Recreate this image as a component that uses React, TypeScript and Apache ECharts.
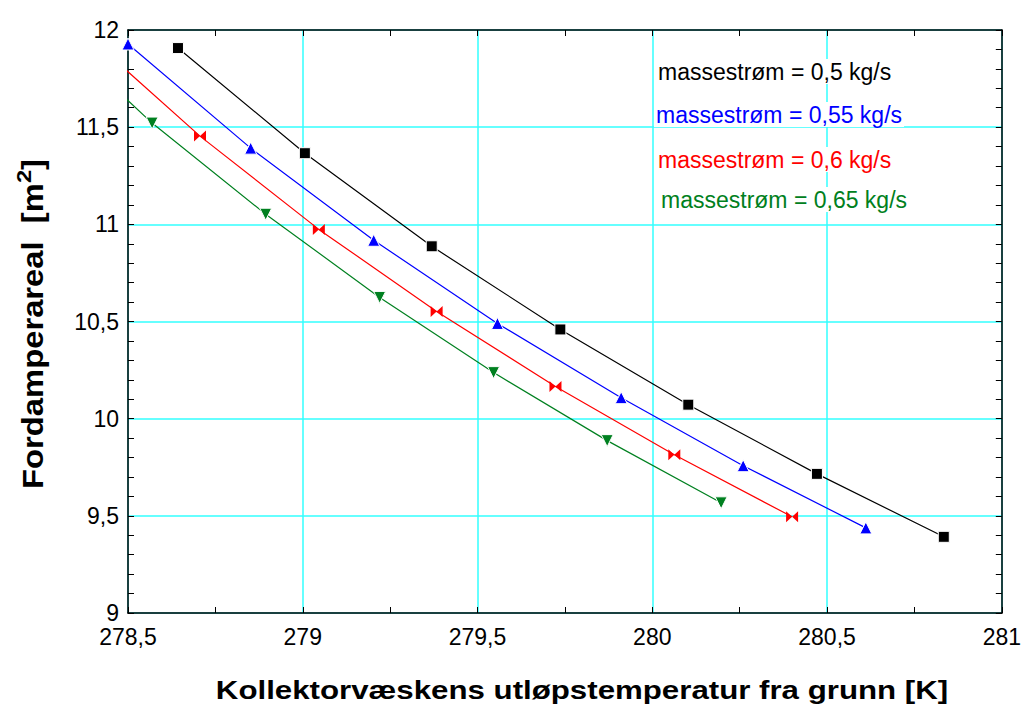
import React, { useEffect, useRef } from "react";
import * as echarts from "echarts";

const xTicks = { min: 278.5, max: 281, interval: 0.5 };
const yTicks = { min: 9, max: 12, interval: 0.5 };

const seriesNames = [
  "massestrøm = 0,5 kg/s",
  "massestrøm = 0,55 kg/s",
  "massestrøm = 0,6 kg/s",
  "massestrøm = 0,65 kg/s",
];
const seriesColors = ["#000000", "#0000ff", "#ff0000", "#008020"];

const flow050: number[][] = [
  [278.643, 11.907],
  [279.006, 11.366],
  [279.369, 10.887],
  [279.737, 10.459],
  [280.103, 10.072],
  [280.471, 9.716],
  [280.834, 9.392],
];
const flow055: number[][] = [
  [278.5, 11.928],
  [278.851, 11.392],
  [279.203, 10.918],
  [279.557, 10.49],
  [279.911, 10.108],
  [280.26, 9.758],
  [280.611, 9.438],
];
const flow060: number[][] = [
  [278.366, 12.0],
  [278.706, 11.454],
  [279.046, 10.974],
  [279.383, 10.552],
  [279.723, 10.165],
  [280.063, 9.814],
  [280.4, 9.495],
];
const flow065: number[][] = [
  [278.243, 12.07],
  [278.569, 11.521],
  [278.894, 11.052],
  [279.22, 10.624],
  [279.546, 10.237],
  [279.871, 9.887],
  [280.197, 9.567],
];

const comma = (v: number) => String(v).replace(".", ",");
const FONT = "'Liberation Sans', Arial, sans-serif";

export default function App() {
  const ref = useRef<HTMLDivElement>(null);
  useEffect(() => {
    if (!ref.current) return;
    const chart = echarts.init(ref.current, null, { renderer: "svg" });
    const axisLine = { show: true, onZero: false, lineStyle: { color: "#000", width: 1.5 } };
    const axisTick = { show: true, inside: true, length: 6, lineStyle: { color: "#000", width: 1 } };
    const splitLine = { show: true, lineStyle: { color: "#33ffff", width: 1.5 } };
    const xBase = { type: "value", ...xTicks, axisLine, axisTick, minorTick: { show: true, splitNumber: 2, length: 6, lineStyle: { color: "#000" } } };
    const yBase = { type: "value", ...yTicks, axisLine, axisTick, minorTick: { show: true, splitNumber: 5, length: 6, lineStyle: { color: "#000" } } };
    const symbols = ["rect", "triangle", "path://M0,0 L10,5 L0,10 Z M20,0 L10,5 L20,10 Z", "triangle"];
    const sizes: any[] = [11, 12, [12, 11], 12];
    const borders = [1, 1, 0, 1];
    const datas = [flow050, flow055, flow060, flow065];
    const legendPos = [
      [656, 73],
      [654, 116],
      [656, 161],
      [659, 201],
    ];
    chart.setOption({
      animation: false,
      backgroundColor: "#fff",
      textStyle: { fontFamily: FONT },
      grid: { left: 128, top: 30, right: 19, bottom: 98, containLabel: false },
      xAxis: [
        {
          ...xBase,
          position: "bottom",
          splitLine,
          axisLabel: { formatter: comma, color: "#000", fontSize: 23, margin: 12, fontFamily: FONT },
        },
        { ...xBase, position: "top", splitLine: { show: false }, axisLabel: { show: false } },
      ],
      yAxis: [
        {
          ...yBase,
          position: "left",
          splitLine,
          axisLabel: { formatter: comma, color: "#000", fontSize: 23, margin: 9, fontFamily: FONT },
        },
        { ...yBase, position: "right", splitLine: { show: false }, axisLabel: { show: false } },
      ],
      series: datas.map((d, i) => ({
        name: seriesNames[i],
        type: "line",
        data: d,
        xAxisIndex: 0,
        yAxisIndex: 0,
        clip: true,
        symbol: symbols[i],
        symbolSize: sizes[i],
        symbolRotate: i === 3 ? 180 : 0,
        showAllSymbol: true,
        lineStyle: { color: seriesColors[i], width: 1.2 },
        itemStyle: { color: seriesColors[i], borderColor: "#fff", borderWidth: borders[i] },
        z: 3,
      })),
      graphic: [
        ...seriesNames.map((n, i) => ({
          type: "text",
          left: legendPos[i][0],
          top: legendPos[i][1] - 14,
          z: 10,
          style: {
            text: n,
            fill: seriesColors[i],
            font: `23px ${FONT}`,
            backgroundColor: "#fff",
            padding: [1, 2],
          },
        })),
        {
          type: "text",
          x: 582,
          y: 690,
          scaleX: 1.25,
          style: {
            text: "Kollektorvæskens utløpstemperatur fra grunn [K]",
            fill: "#000",
            font: `bold 25px ${FONT}`,
            align: "center",
            verticalAlign: "middle",
          },
        },
        {
          type: "text",
          x: 33,
          y: 324,
          rotation: Math.PI / 2,
          scaleX: 1.13,
          style: {
            text: "Fordamperareal  [m{sup|2}]",
            fill: "#000",
            font: `bold 29px ${FONT}`,
            align: "center",
            verticalAlign: "middle",
            rich: {
              sup: { font: `bold 21px ${FONT}`, fill: "#000", verticalAlign: "top", padding: [0, 0, 18, 0] },
            },
          },
        },
      ],
    } as any);
    return () => chart.dispose();
  }, []);
  return (
    <div
      ref={ref}
      style={{ position: "fixed", left: 0, top: 0, width: 1024, height: 711, background: "#fff" }}
    />
  );
}
